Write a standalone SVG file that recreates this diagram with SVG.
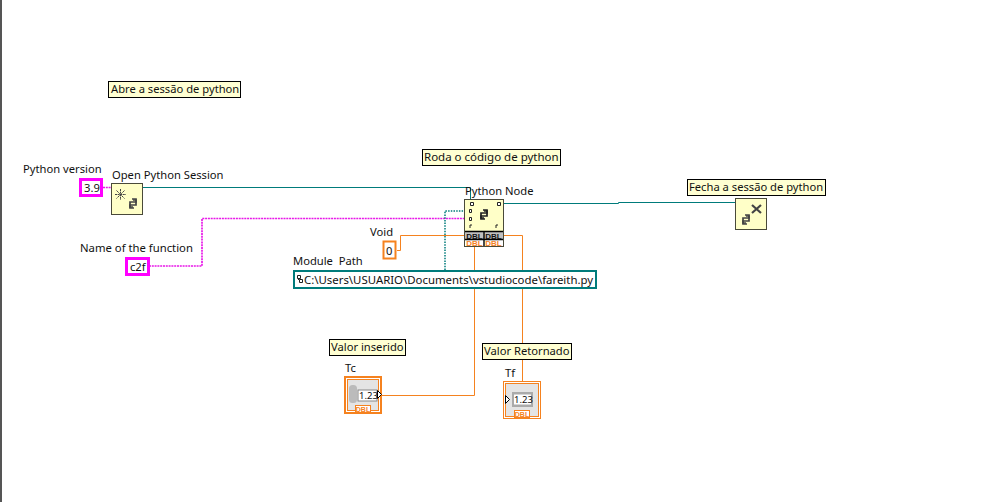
<svg xmlns="http://www.w3.org/2000/svg" width="1006" height="502" viewBox="0 0 1006 502">
<defs>
<g id="py"><path d="M5 2H9V5H3V10H6" fill="none" stroke-width="1.7"/><path d="M7 11H3V8H9V3H6" fill="none" stroke-width="1.7"/></g>
<g id="star"><path d="M5.500 0V11M0 5.500H11M1.500 1.500L9.500 9.500M9.500 1.500L1.500 9.500" fill="none" stroke="#444" stroke-width="1" stroke-dasharray="2 .6"/></g>
</defs>
<style>
text{font-family:"Noto Sans","Open Sans","Liberation Sans",sans-serif;font-size:11.2px;fill:#111}
.note{fill:#ffffd2;stroke:#000;stroke-width:1}
.fn{fill:#ffffc8;stroke:#4a4a3a;stroke-width:1}
.teal{fill:none;stroke:#007b7b;stroke-width:1}
.or{fill:none;stroke:#f5821f;stroke-width:1}
.pkd{fill:none;stroke:#e818e8;stroke-width:1.7;stroke-dasharray:2 .8}
.tld{fill:none;stroke:#007b7b;stroke-width:1.5;stroke-dasharray:1.5 1.2}
.ct{fill:#fff;stroke:#ff00ff;stroke-width:3}
.d{font-family:"Liberation Sans",sans-serif;font-size:8px;font-weight:bold;text-anchor:middle}
.s{font-size:9.500px}
</style>
<rect width="1006" height="502" fill="#fff"/>
<rect x="0" y="0" width="2" height="502" fill="#555"/>
<g id="connectors">
<path class="pkd" d="M103 187.500H111"/>
<path class="teal" d="M143 187.500H470.500V199"/>
<path class="pkd" d="M149 266H202V218.500H464"/>
<path class="tld" d="M445 270V211H464"/>
<path class="or" d="M397 250.500H400.500V235.500H464"/>
<path class="or" d="M474.500 246V395.500H382"/>
<path class="or" d="M504 235.500H522.500V381"/>
<path class="teal" d="M504 203.500H618.500V202.500H736"/>
</g>
<g id="note-abre"><rect class="note" x="108.500" y="81.500" width="132" height="16"/><text x="111" y="93">Abre a sessão de python</text></g>
<g id="note-roda"><rect class="note" x="422.500" y="149.500" width="138" height="16"/><text x="424" y="161" style="font-size:11.500px">Roda o código de python</text></g>
<g id="note-fecha"><rect class="note" x="687.500" y="179.500" width="138" height="16"/><text x="689" y="191">Fecha a sessão de python</text></g>
<g id="note-inserido"><rect class="note" x="329.500" y="339.500" width="76" height="16"/><text x="331" y="351">Valor inserido</text></g>
<g id="note-retornado"><rect class="note" x="482.500" y="343.500" width="89" height="16"/><text x="484" y="355">Valor Retornado</text></g>
<g id="python-version"><text x="23" y="173">Python version</text><rect class="ct" x="80.500" y="179.500" width="21" height="16"/><text x="84" y="192">3.9</text></g>
<g id="open-session"><text x="112" y="179">Open Python Session</text><rect class="fn" x="111.500" y="183.500" width="31" height="31"/>
<use href="#star" x="115" y="189"/>
<use href="#py" x="127" y="197" stroke="#444"/></g>
<g id="name-function"><text x="80" y="252" style="font-size:11.300px">Name of the function</text><rect class="ct" x="126.500" y="258.500" width="22" height="16"/><text x="130" y="271">c2f</text></g>
<g id="void"><text x="370" y="236">Void</text><rect x="383.500" y="241.500" width="12" height="17" fill="#fff" stroke="#f5821f" stroke-width="2"/><text x="386" y="255">0</text></g>
<g id="python-node"><text x="465" y="195">Python Node</text>
<rect class="fn" x="464.500" y="199.500" width="39" height="47"/>
<rect x="465" y="231" width="38" height="8" fill="#c0c0c0"/><rect x="465" y="239" width="38" height="7" fill="#fff"/>
<path d="M465 231.500H503M465 239.500H503M484 231V246" stroke="#000" stroke-width="1.400"/>
<text class="d" x="474.500" y="238.500">DBL</text><text class="d" x="493.500" y="238.500">DBL</text>
<text class="d" x="474.500" y="246" style="fill:#f5821f">DBL</text><text class="d" x="493.500" y="246" style="fill:#f5821f">DBL</text>
<path d="M470.500 202.500h3v3h-3zM497.500 202.500h3v3h-3zM469.500 209.500h2v3h-2zM469.500 217.500h2v3h-2z" fill="#fff" stroke="#222"/>
<path d="M470 225v3M472 225h-2M496 225v3M498 225h-2" stroke="#222" fill="none"/>
<use href="#py" x="478" y="208" stroke="#222"/></g>
<g id="close-session"><rect class="fn" x="735.500" y="198.500" width="31" height="31"/><path d="M752 205l9 8M761 205l-9 8" stroke="#444" stroke-width="2.200"/><use href="#py" x="740" y="213" stroke="#444"/></g>
<g id="module-path"><text x="293" y="265" xml:space="preserve">Module  Path</text><rect x="294" y="271" width="302" height="17" fill="#fff" stroke="#007b7b" stroke-width="2"/><text x="304" y="284" style="font-size:11.400px">C:\Users\USUARIO\Documents\vstudiocode\fareith.py</text><path d="M297.500 275.500h3v3h-3zM299.500 279.500h3v3h-3zM298.500 278v2" fill="none" stroke="#222"/></g>
<g id="tc"><text x="345" y="372">Tc</text><rect x="345" y="377" width="36" height="36" fill="#fff" stroke="#f5821f" stroke-width="2"/><rect x="347.500" y="379.500" width="31" height="31" fill="#e4e4e4" stroke="#f5821f"/><rect x="349" y="385" width="8" height="18" rx="3.500" fill="#bbb"/><rect x="358" y="390" width="19" height="11" fill="#fff" stroke="#888"/><text x="359" y="399" class="s">1.23</text><path d="M377.500 390.500l4 4-4 4z" fill="#fff" stroke="#000"/><rect x="355.500" y="405.500" width="15" height="7" fill="#fff" stroke="#f5821f"/><text class="d" x="363" y="412" style="fill:#f5821f;font-size:7px">DBL</text></g>
<g id="tf"><text x="505" y="377">Tf</text><rect x="503.500" y="381.500" width="37" height="37" fill="#fff" stroke="#f5821f"/><rect x="505.500" y="383.500" width="33" height="33" fill="#e4e4e4" stroke="#f5821f"/><rect x="512" y="392" width="21" height="15" fill="#aaa"/><rect x="514" y="394.500" width="17" height="10" fill="#fff"/><text x="514" y="403" class="s">1.23</text><path d="M505.500 395.500l4 4-4 4z" fill="#fff" stroke="#000"/><rect x="514.500" y="410.500" width="15" height="7" fill="#fff" stroke="#f5821f"/><text class="d" x="522" y="417" style="fill:#f5821f;font-size:7px">DBL</text></g>
</svg>
